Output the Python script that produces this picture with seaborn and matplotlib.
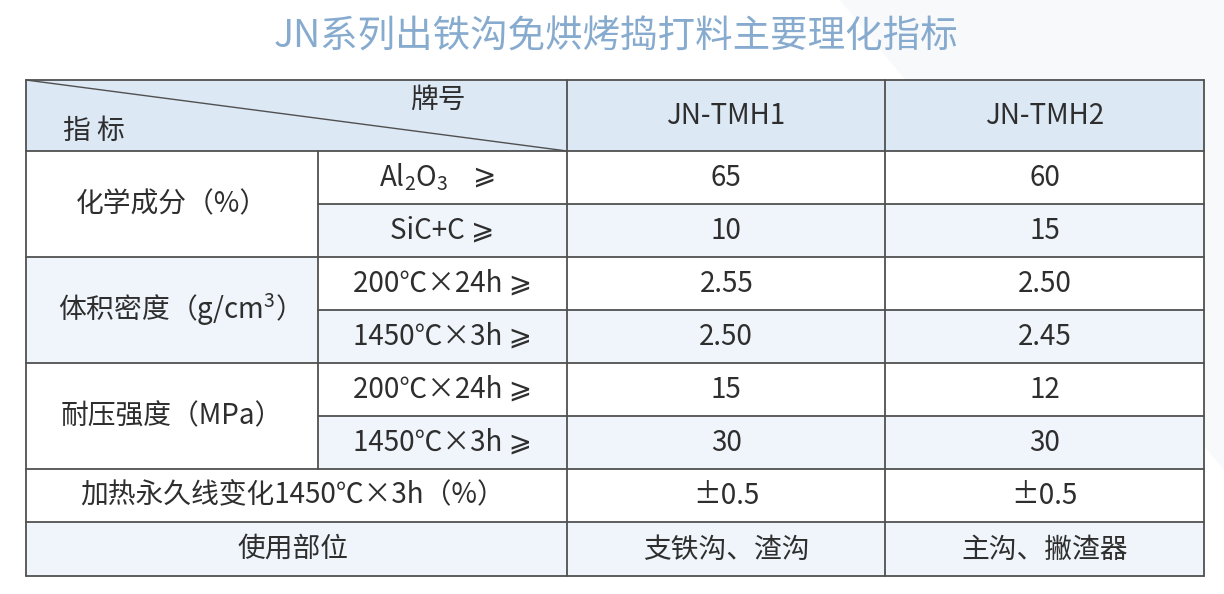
import numpy as np
import pandas as pd
import matplotlib
matplotlib.use("Agg")
import matplotlib.pyplot as plt
from matplotlib.colors import ListedColormap
from matplotlib.patches import Rectangle, Polygon
import seaborn as sns

# ---------------- data ----------------
title = "JN系列出铁沟免烘烤捣打料主要理化指标"
corner_top = "牌号"
corner_bottom = "指 标"
grades = ["JN-TMH1", "JN-TMH2"]
groups = ["化学成分（%）", "体积密度（g/cm$^\\mathregular{3}$）", "耐压强度（MPa）"]
sub_items = ["Al$_\\mathregular{2}$O$_\\mathregular{3}$", "SiC+C ⩾",
             "200℃×24h ⩾", "1450℃×3h ⩾",
             "200℃×24h ⩾", "1450℃×3h ⩾"]
geq_sign = "⩾"
merged_items = ["加热永久线变化1450℃×3h（%）", "使用部位"]
tmh1_values = [65, 10, 2.55, 2.50, 15, 30]
tmh2_values = [60, 15, 2.50, 2.45, 12, 30]
value_formats = ["{:.0f}", "{:.0f}", "{:.2f}", "{:.2f}", "{:.0f}", "{:.0f}"]
linear_change = ["±0.5", "±0.5"]
usage = ["支铁沟、渣沟", "主沟、撇渣器"]

# ---------------- style ----------------
sns.set_theme(style="white")
FONTS = ["Noto Sans CJK SC", "DejaVu Sans"]
plt.rcParams["font.family"] = FONTS
plt.rcParams["mathtext.fontset"] = "custom"
plt.rcParams["mathtext.rm"] = "Noto Sans CJK SC"

TXT = "#2e2e2e"
LINE = "#505050"
HEAD = "#dce8f4"
LIGHT = "#eff5fa"
TITLE_C = "#87abcf"
FS = 20

W, H = 1224, 594
col_edges = [26, 318, 567, 885, 1204]
row_edges = [80, 151, 204, 257, 310, 363, 416, 469, 522, 576]

fig = plt.figure(figsize=(W / 100, H / 100), dpi=100)
fig.patch.set_facecolor("white")

# background axes (pixel coords) for faint decoration
bg = fig.add_axes([0, 0, 1, 1], zorder=0)
bg.set_xlim(0, W); bg.set_ylim(H, 0); bg.axis("off")
bg.add_patch(Polygon([[840, 0], [W, 0], [W, 470]], closed=True,
                     facecolor="#f7f9fb", edgecolor="none"))

# ---------------- value cells via seaborn heatmap ----------------
cells = []
for i in range(6):
    cells.append([value_formats[i].format(tmh1_values[i]),
                  value_formats[i].format(tmh2_values[i])])
cells.append(linear_change)
cells.append(usage)
annot = np.array(cells, dtype=object)
shade = np.array([[i % 2, i % 2] for i in range(len(cells))])
df = pd.DataFrame(shade, columns=grades)

x0, x1 = col_edges[2], col_edges[4]
y0, y1 = row_edges[1], row_edges[-1]
hax = fig.add_axes([x0 / W, (H - y1) / H, (x1 - x0) / W, (y1 - y0) / H], zorder=1)
sns.heatmap(df, ax=hax, cmap=ListedColormap(["#ffffff", LIGHT]), vmin=0, vmax=1,
            cbar=False, annot=annot, fmt="", linewidths=0,
            annot_kws=dict(fontsize=FS, color=TXT, family=FONTS),
            xticklabels=False, yticklabels=False)
hax.set_xlabel(""); hax.set_ylabel("")

# ---------------- overlay axes: labels, header, lines ----------------
ax = fig.add_axes([0, 0, 1, 1], zorder=2)
ax.set_xlim(0, W); ax.set_ylim(H, 0); ax.axis("off")
ax.patch.set_alpha(0)

ax.text(W / 2 + 4, 37, title, ha="center", va="center", fontsize=27,
        color=TITLE_C, family=FONTS)

# header row
ax.add_patch(Rectangle((col_edges[0], row_edges[0]), col_edges[4] - col_edges[0],
                       row_edges[1] - row_edges[0], facecolor=HEAD, edgecolor="none"))
ax.plot([col_edges[0], col_edges[2]], [row_edges[0], row_edges[1]], color=LINE, lw=1.0)
ax.text(438, 100, corner_top, ha="center", va="center", fontsize=FS, color=TXT)
ax.text(94, 131, corner_bottom, ha="center", va="center", fontsize=FS, color=TXT)
hy = (row_edges[0] + row_edges[1]) / 2
for j, g in enumerate(grades):
    cx = (col_edges[2 + j] + col_edges[3 + j]) / 2
    ax.text(cx, hy, g, ha="center", va="center", fontsize=FS, color=TXT)

# group labels (merged 2 rows each)
for k, g in enumerate(groups):
    ya, yb = row_edges[1 + 2 * k], row_edges[3 + 2 * k]
    ax.add_patch(Rectangle((col_edges[0], ya), col_edges[1] - col_edges[0], yb - ya,
                           facecolor=LIGHT if k % 2 else "white", edgecolor="none"))
    ax.text((col_edges[0] + col_edges[1]) / 2, (ya + yb) / 2, g, ha="center",
            va="center", fontsize=FS, color=TXT)

# sub items
for i, s in enumerate(sub_items):
    ya, yb = row_edges[1 + i], row_edges[2 + i]
    cx, cy = (col_edges[1] + col_edges[2]) / 2, (ya + yb) / 2
    ax.add_patch(Rectangle((col_edges[1], ya), col_edges[2] - col_edges[1], yb - ya,
                           facecolor=LIGHT if i % 2 else "white", edgecolor="none"))
    if i == 0:
        ax.text(cx + 6, cy, s, ha="right", va="center", fontsize=FS, color=TXT)
        ax.text(cx + 30, cy - 2, geq_sign, ha="left", va="center", fontsize=FS,
                color=TXT)
    else:
        ax.text(cx, cy, s, ha="center", va="center", fontsize=FS, color=TXT)

# merged rows
for i, s in enumerate(merged_items):
    ya, yb = row_edges[7 + i], row_edges[8 + i]
    ax.add_patch(Rectangle((col_edges[0], ya), col_edges[2] - col_edges[0], yb - ya,
                           facecolor=LIGHT if i % 2 else "white", edgecolor="none"))
    ax.text((col_edges[0] + col_edges[2]) / 2 - 4, (ya + yb) / 2, s, ha="center",
            va="center", fontsize=FS, color=TXT)

# grid lines
lw = 1.3
for r, y in enumerate(row_edges):
    if r in (2, 4, 6):
        ax.plot([col_edges[1], col_edges[4]], [y, y], color=LINE, lw=lw)
    else:
        ax.plot([col_edges[0], col_edges[4]], [y, y], color=LINE, lw=lw)
ax.plot([col_edges[0]] * 2, [row_edges[0], row_edges[-1]], color=LINE, lw=lw)
ax.plot([col_edges[4]] * 2, [row_edges[0], row_edges[-1]], color=LINE, lw=lw)
ax.plot([col_edges[1]] * 2, [row_edges[1], row_edges[7]], color=LINE, lw=lw)
ax.plot([col_edges[2]] * 2, [row_edges[0], row_edges[-1]], color=LINE, lw=lw)
ax.plot([col_edges[3]] * 2, [row_edges[0], row_edges[-1]], color=LINE, lw=lw)

fig.savefig("out.png", dpi=100, facecolor="white")
